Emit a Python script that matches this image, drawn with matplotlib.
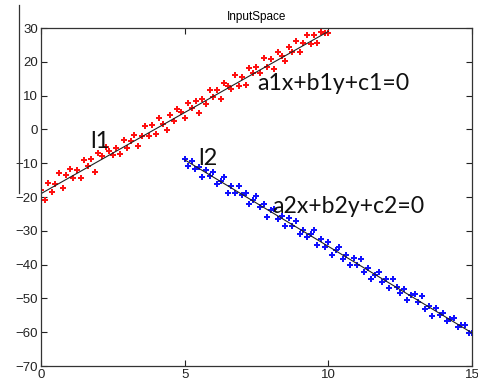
import matplotlib
matplotlib.use("Agg")
import matplotlib.pyplot as plt
from matplotlib.lines import Line2D

# class 1 samples (red)
x1 = [0.00, 0.13, 0.25, 0.37, 0.50, 0.62, 0.75, 0.88, 1.00, 1.12, 1.25, 1.38, 1.50, 1.62,
      1.75, 1.88, 2.00, 2.12, 2.25, 2.38, 2.50, 2.62, 2.75, 2.88, 3.00, 3.12, 3.25, 3.38,
      3.50, 3.62, 3.75, 3.88, 4.00, 4.12, 4.25, 4.38, 4.50, 4.62, 4.75, 4.88, 5.00, 5.12,
      5.25, 5.38, 5.50, 5.62, 5.75, 5.88, 6.00, 6.12, 6.25, 6.38, 6.50, 6.62, 6.75, 6.88,
      7.00, 7.12, 7.25, 7.38, 7.50, 7.62, 7.75, 7.88, 8.00, 8.12, 8.25, 8.38, 8.50, 8.62,
      8.75, 8.88, 9.00, 9.12, 9.25, 9.38, 9.50, 9.62, 9.75, 9.88, 10.00]
y1 = [-18.0, -20.9, -15.8, -18.4, -16.1, -13.0, -17.2, -13.4, -11.6, -14.3, -11.9, -14.3,
      -9.0, -10.9, -8.7, -12.6, -7.0, -8.0, -5.3, -6.3, -7.5, -5.5, -7.2, -3.0, -5.4, -3.4,
      -1.6, -4.9, -1.8, 0.9, -1.9, 1.2, -1.3, 3.5, 1.6, -0.3, 4.3, 2.6, 5.9, 5.1, 3.3, 7.9,
      6.3, 8.3, 5.0, 8.9, 7.5, 11.8, 9.5, 11.6, 9.1, 13.6, 12.7, 12.0, 16.2, 12.7, 15.6,
      13.0, 18.2, 16.7, 18.6, 16.6, 21.1, 18.4, 20.7, 18.0, 22.8, 21.8, 20.3, 24.3, 22.8,
      26.1, 23.0, 25.6, 28.0, 25.3, 28.0, 25.6, 28.9, 28.6, 28.5]

# class 2 samples (blue)
x2 = [5.00, 5.13, 5.25, 5.37, 5.50, 5.62, 5.75, 5.88, 6.00, 6.12, 6.25, 6.38, 6.50, 6.62,
      6.75, 6.88, 7.00, 7.12, 7.25, 7.38, 7.50, 7.62, 7.75, 7.88, 8.00, 8.12, 8.25, 8.38,
      8.50, 8.62, 8.75, 8.88, 9.00, 9.12, 9.25, 9.38, 9.50, 9.62, 9.75, 9.88, 10.00, 10.12,
      10.25, 10.38, 10.50, 10.62, 10.75, 10.88, 11.00, 11.12, 11.25, 11.38, 11.50, 11.62,
      11.75, 11.88, 12.00, 12.12, 12.25, 12.38, 12.50, 12.62, 12.75, 12.88, 13.00, 13.12,
      13.25, 13.38, 13.50, 13.62, 13.75, 13.88, 14.00, 14.12, 14.25, 14.38, 14.50, 14.62,
      14.75, 14.88, 15.00]
y2 = [-8.7, -10.8, -9.3, -11.7, -11.0, -14.1, -11.9, -13.9, -12.6, -16.1, -15.2, -14.2,
      -18.8, -16.6, -18.9, -16.7, -19.4, -18.7, -22.2, -20.8, -19.8, -23.0, -22.0, -25.9,
      -23.9, -23.4, -26.6, -25.5, -28.7, -26.3, -28.5, -27.1, -30.9, -29.9, -31.7, -30.8,
      -29.9, -34.2, -32.4, -34.7, -33.2, -37.2, -35.6, -34.7, -38.3, -37.3, -40.0, -38.1,
      -40.1, -38.2, -42.2, -41.0, -44.2, -43.1, -42.1, -45.0, -44.4, -46.9, -44.4, -46.7,
      -48.4, -47.2, -50.4, -49.0, -48.6, -51.2, -49.3, -53.2, -52.3, -55.2, -52.7, -54.9,
      -54.4, -56.8, -56.0, -55.8, -58.4, -57.8, -57.9, -60.2, -60.1]

# fitted lines
fit1_x = [0, 10]
fit1_y = [-19.0, 29.0]
fit2_x = [5, 15]
fit2_y = [-9.0, -60.2]

plt.rcParams["font.family"] = ["Liberation Sans", "DejaVu Sans"]

fig = plt.figure(figsize=(4.78, 3.86), dpi=100)
ax = fig.add_axes([0.0858, 0.0518, 0.9016, 0.8756])

ax.plot(x1, y1, linestyle="none", marker="P", markersize=4.3, color="#ff1010",
        markeredgewidth=0)
ax.plot(x2, y2, linestyle="none", marker="P", markersize=4.3, color="#1010ff",
        markeredgewidth=0)
ax.plot(fit1_x, fit1_y, color="#222222", linewidth=0.8)
ax.plot(fit2_x, fit2_y, color="#222222", linewidth=0.8)

ax.set_xlim(0, 15)
ax.set_ylim(-70, 30)
ax.set_xticks([0, 5, 10, 15])
ax.set_yticks(range(-70, 31, 10))
ax.tick_params(direction="in", length=4, width=0.8, top=True, right=True,
               labelsize=9.5, pad=2, colors="#222222")
for s in ax.spines.values():
    s.set_color("#333333")
    s.set_linewidth(0.9)

ax.set_title("InputSpace", fontsize=8.5, pad=6)

eq_font = ["Lato", "DejaVu Sans"]
ax.text(7.51, 11.7, "a1x+b1y+c1=0", fontsize=16.6, family=eq_font, color="#111111")
ax.text(8.04, -24.7, "a2x+b2y+c2=0", fontsize=16.6, family=eq_font, color="#111111")
ax.text(1.73, -5.5, "l1", fontsize=17, family=eq_font, color="#111111")
ax.text(5.46, -10.5, "l2", fontsize=17, family=eq_font, color="#111111")

# stray frame edge on the left
fig.add_artist(Line2D([19 / 478, 19 / 478], [1 - 5 / 386, 1 - 193 / 386],
                      transform=fig.transFigure, color="#333333", linewidth=0.9))

fig.savefig("out.png", dpi=100)
